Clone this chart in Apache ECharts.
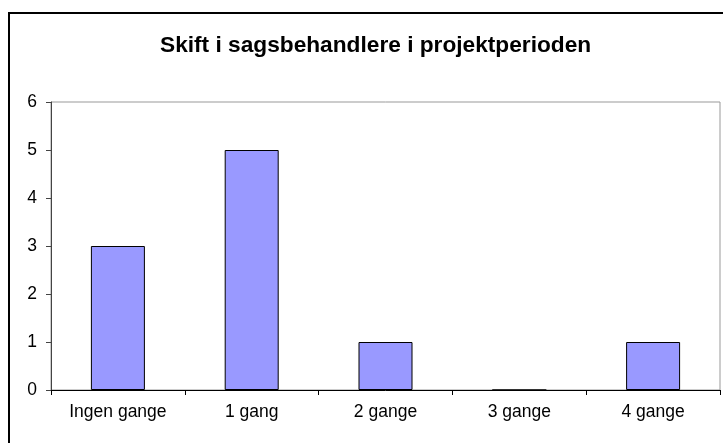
<!DOCTYPE html>
<html>
<head>
<meta charset="utf-8">
<script src="https://cdn.jsdelivr.net/npm/echarts@6/dist/echarts.min.js"></script>
<style>
  html, body { margin: 0; padding: 0; background: #fff; }
  #chart { width: 723px; height: 443px; }
</style>
</head>
<body>
<div id="chart"></div>
<script>
// Number of caseworker changes during the project period
const categories = ['Ingen gange', '1 gang', '2 gange', '3 gange', '4 gange'];
const counts = [3, 5, 1, 0, 1];
const yTicks = { min: 0, max: 6, interval: 1 };
const titleText = 'Skift i sagsbehandlere i projektperioden';

const chart = echarts.init(document.getElementById('chart'), null, { renderer: 'canvas' });

chart.setOption({
  animation: false,
  backgroundColor: '#ffffff',
  textStyle: { fontFamily: 'Liberation Sans, Arial, sans-serif' },
  title: {
    text: titleText,
    left: 155,
    top: 29,
    textStyle: {
      fontFamily: 'Liberation Sans, Arial, sans-serif',
      fontWeight: 'bold',
      fontSize: 22.7,
      color: '#000'
    }
  },
  graphic: [{
    type: 'rect',
    silent: true,
    shape: { x: 9, y: 13, width: 800, height: 500 },
    style: { fill: 'none', stroke: '#000', lineWidth: 2 }
  }],
  grid: {
    left: 51,
    right: 3,
    top: 102,
    bottom: 53,
    show: true,
    borderColor: '#999999',
    borderWidth: 1,
    backgroundColor: 'transparent'
  },
  xAxis: {
    type: 'category',
    data: categories,
    axisLine: { lineStyle: { color: '#000', width: 1 } },
    axisTick: { show: true, length: 5, lineStyle: { color: '#000' } },
    axisLabel: { color: '#000', fontSize: 17.5, margin: 13 },
    splitLine: { show: false }
  },
  yAxis: {
    type: 'value',
    min: yTicks.min,
    max: yTicks.max,
    interval: yTicks.interval,
    axisLine: { show: true, lineStyle: { color: '#444', width: 1 } },
    axisTick: { show: true, length: 5, lineStyle: { color: '#444' } },
    axisLabel: { color: '#000', fontSize: 17.5, margin: 14 },
    splitLine: { show: false }
  },
  series: [{
    type: 'bar',
    data: counts,
    barWidth: 54,
    itemStyle: { color: '#9999FF', borderColor: '#000', borderWidth: 1 }
  }]
});
</script>
</body>
</html>
